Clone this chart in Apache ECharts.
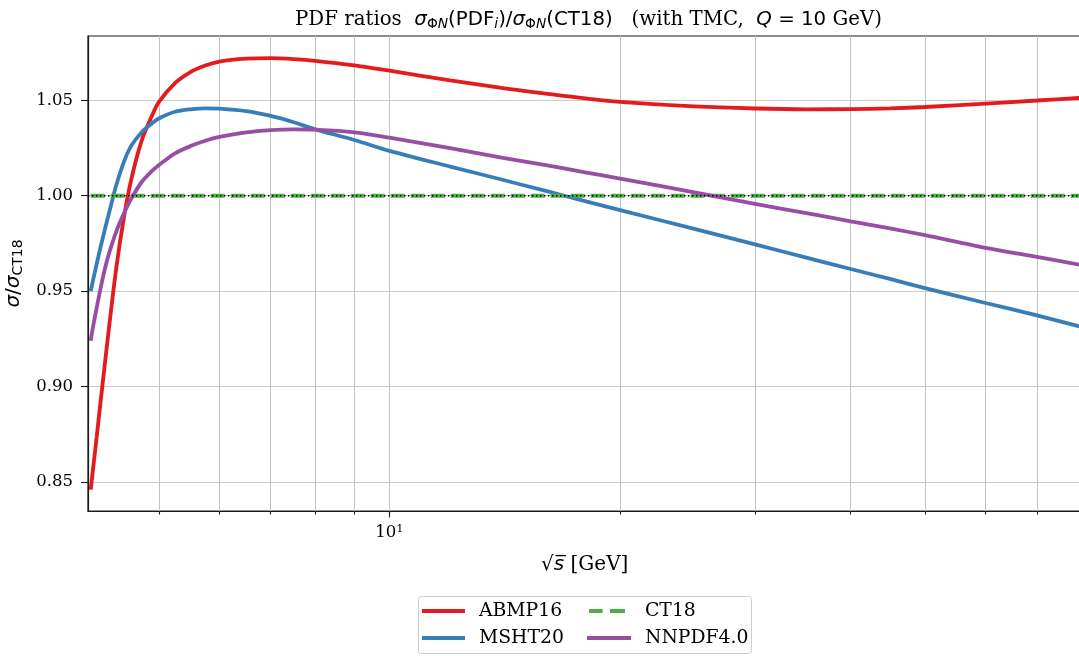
<!DOCTYPE html>
<html>
<head>
<meta charset="utf-8">
<script src="https://cdn.jsdelivr.net/npm/echarts@6/dist/echarts.min.js"></script>
<style>
  html, body { margin: 0; padding: 0; background: #ffffff; }
  #chart { width: 1079px; height: 656px; }
</style>
</head>
<body>
<div id="chart"></div>
<script>
// sqrt(s) grid in GeV
const sqrtS = [4.075, 4.1, 4.15, 4.2, 4.25, 4.3, 4.4, 4.5, 4.6, 4.75, 4.9, 5.0, 5.25, 5.5, 5.75, 6.0,
  6.5, 7.0, 7.5, 8, 9, 10, 12, 14, 16, 18, 20, 25, 30, 35, 40, 45, 50, 60, 70, 80];

// cross-section ratios to CT18
const abmp16 = [0.846, 0.8555, 0.874, 0.893, 0.911, 0.929, 0.962, 0.988, 1.008, 1.029, 1.042, 1.049,
  1.0590, 1.0648, 1.0682, 1.0703, 1.0718, 1.0721, 1.0716, 1.0707, 1.0683, 1.0655, 1.0605, 1.0565,
  1.0535, 1.0510, 1.0492, 1.0468, 1.0457, 1.0453, 1.0454, 1.0458, 1.0465, 1.0483, 1.0499, 1.0513];
const msht20 = [0.950, 0.955, 0.9645, 0.9735, 0.982, 0.990, 1.0055, 1.0175, 1.0260, 1.0333, 1.0380, 1.0405,
  1.0440, 1.0453, 1.0458, 1.0456, 1.0443, 1.0418, 1.0385, 1.0348, 1.0292, 1.0235, 1.0153, 1.0085,
  1.0025, 0.9972, 0.9925, 0.9826, 0.9745, 0.9676, 0.9616, 0.9564, 0.9516, 0.9438, 0.9373, 0.9313];
const nnpdf40 = [0.924, 0.9305, 0.9415, 0.952, 0.9612, 0.9690, 0.9812, 0.9905, 0.9982, 1.0072, 1.0130, 1.0160,
  1.0222, 1.0260, 1.0288, 1.0308, 1.0332, 1.0344, 1.0348, 1.0346, 1.0332, 1.0304, 1.0250, 1.0200,
  1.0160, 1.0123, 1.0090, 1.0018, 0.9957, 0.9909, 0.9866, 0.9829, 0.9793, 0.9727, 0.9679, 0.9637];
const ct18 = [1.0, 1.0];
const ct18S = [4.075, 80];

// axis ranges and ticks
const xRange = [4.042, 80];
const yRange = [0.8348, 1.0837];
const yTicks = [0.85, 0.90, 0.95, 1.00, 1.05];
const xGridTicks = [5, 6, 7, 8, 9, 10, 20, 30, 40, 50, 60, 70];
const xMajorTicks = [10];

const SERIF = 'DejaVu Serif';
const SANS = 'DejaVu Sans';

const pairs = (xs, ys) => xs.map((x, i) => [x, ys[i]]);

const chart = echarts.init(document.getElementById('chart'), null, { renderer: 'canvas' });

const lineSeries = (name, data, color, extra) => Object.assign({
  name: name,
  type: 'line',
  data: data,
  symbol: 'none',
  smooth: 0.3,
  lineStyle: { color: color, width: 3.8 },
  itemStyle: { color: color },
  emphasis: { disabled: true },
  animation: false
}, extra || {});

const legendText = (pad) => ({
  fontFamily: SERIF, fontSize: 18.8, color: '#000', lineHeight: 20, padding: [0, 0, 0, pad]
});

const option = {
  backgroundColor: '#ffffff',
  animation: false,
  title: {
    left: 583.5,
    textAlign: 'center',
    top: 2,
    text: 'PDF ratios  {mi|σ}{sub|Φ}{subi|N}{m|(PDF}{subi|i}{m|)/}{mi|σ}{sub|Φ}{subi|N}{m|(CT18)}   (with TMC,  {mi|Q}{m| = 10} GeV)',
    textStyle: {
      fontFamily: SERIF, fontSize: 19.8, fontWeight: 'normal', color: '#000',
      rich: {
        mi: { fontFamily: SANS, fontStyle: 'italic', fontSize: 19.8, lineHeight: 26 },
        m: { fontFamily: SANS, fontSize: 19.8, lineHeight: 26 },
        sub: { fontFamily: SANS, fontSize: 13.8, lineHeight: 18, padding: [9, 0, 0, 0] },
        subi: { fontFamily: SANS, fontStyle: 'italic', fontSize: 13.8, lineHeight: 18, padding: [9, 0, 0, 0] }
      }
    }
  },
  grid: {
    left: 88, right: -2.4, top: 36, bottom: 145,
    outerBoundsMode: 'none',
    containLabel: false,
    show: true, borderColor: '#1a1a1a', borderWidth: 1.2, backgroundColor: 'transparent'
  },
  legend: [
    {
      data: [{ name: 'ABMP16', icon: 'rect' }, { name: 'MSHT20', icon: 'rect' }],
      orient: 'vertical', left: 422, top: 601,
      itemWidth: 43, itemHeight: 3.8, itemGap: 7, padding: 0,
      symbolKeepAspect: false,
      selectedMode: false,
      textStyle: legendText(9)
    },
    {
      data: [{ name: 'CT18', icon: 'path://M0,0H13.7V3.8H0Z M21,0H36V3.8H21Z' }],
      orient: 'vertical', left: 589, top: 601,
      itemWidth: 36, itemHeight: 3.8, itemGap: 7, padding: 0,
      symbolKeepAspect: false,
      selectedMode: false,
      textStyle: legendText(15)
    },
    {
      data: [{ name: 'NNPDF4.0', icon: 'rect' }],
      orient: 'vertical', left: 587, top: 628,
      itemWidth: 44, itemHeight: 3.8, itemGap: 7, padding: 0,
      symbolKeepAspect: false,
      selectedMode: false,
      textStyle: legendText(9)
    }
  ],
  graphic: [{
    type: 'rect',
    shape: { x: 418.5, y: 596.5, width: 333, height: 57, r: 3 },
    style: { fill: 'rgba(255,255,255,0.8)', stroke: '#cccccc', lineWidth: 1 },
    z: -1
  }],
  xAxis: [
    {
      type: 'log', logBase: 10, min: xRange[0], max: xRange[1],
      position: 'bottom',
      name: '{m|√}{mi|s̅}{t| [GeV]}',
      nameLocation: 'middle', nameGap: 44,
      nameTextStyle: {
        fontFamily: SERIF, fontSize: 20, color: '#000',
        rich: {
          m: { fontFamily: SANS, fontSize: 20 },
          mi: { fontFamily: SANS, fontStyle: 'italic', fontSize: 20 },
          t: { fontFamily: SERIF, fontSize: 20 }
        }
      },
      axisLine: { show: true, lineStyle: { color: '#1a1a1a', width: 1.2 } },
      axisTick: { show: true, customValues: xGridTicks, length: 3.5, lineStyle: { color: '#1a1a1a', width: 1.1 } },
      axisLabel: {
        show: true, customValues: xMajorTicks, margin: 12,
        fontFamily: SERIF, fontSize: 16.5, color: '#000',
        formatter: (v) => '{b|10}{sup|' + Math.round(Math.log10(v)) + '}',
        rich: {
          b: { fontFamily: SERIF, fontSize: 16.5, lineHeight: 20 },
          sup: { fontFamily: SERIF, fontSize: 11.5, lineHeight: 14, padding: [0, 0, 8, 0] }
        }
      },
      splitLine: { show: true, lineStyle: { color: '#c4c4c4', width: 1 } },
      minorTick: { show: false },
      minorSplitLine: { show: false }
    },
    {
      type: 'log', logBase: 10, min: xRange[0], max: xRange[1],
      position: 'bottom', offset: 0,
      axisLine: { show: false },
      axisTick: { show: true, customValues: xMajorTicks, length: 6.5, lineStyle: { color: '#1a1a1a', width: 1.1 } },
      axisLabel: { show: false },
      splitLine: { show: false }
    }
  ],
  yAxis: {
    type: 'value', min: yRange[0], max: yRange[1],
    name: '{mi|σ}{m|/}{mi|σ}{sub|CT18}',
    nameLocation: 'middle', nameRotate: 90, nameGap: 60,
    nameTextStyle: {
      fontFamily: SANS, fontSize: 20, color: '#000',
      rich: {
        mi: { fontFamily: SANS, fontStyle: 'italic', fontSize: 20, lineHeight: 26 },
        m: { fontFamily: SANS, fontSize: 20, lineHeight: 26 },
        sub: { fontFamily: SANS, fontSize: 14, lineHeight: 18, padding: [9, 0, 0, 0] }
      }
    },
    axisLine: { show: true, lineStyle: { color: '#1a1a1a', width: 1.2 } },
    axisTick: { show: true, customValues: yTicks, length: 7, lineStyle: { color: '#1a1a1a', width: 1.1 } },
    axisLabel: {
      show: true, customValues: yTicks, margin: 15,
      fontFamily: SERIF, fontSize: 16.5, color: '#000',
      formatter: (v) => v.toFixed(2)
    },
    splitLine: { show: true, lineStyle: { color: '#cccccc', width: 1 } }
  },
  series: [
    lineSeries('ABMP16', pairs(sqrtS, abmp16), '#e41a1c'),
    lineSeries('MSHT20', pairs(sqrtS, msht20), '#377eb8'),
    lineSeries('CT18', pairs(ct18S, ct18), '#4daf4a', {
      smooth: false,
      lineStyle: { color: '#4daf4a', width: 3.8, type: [14, 6] }
    }),
    lineSeries('NNPDF4.0', pairs(sqrtS, nnpdf40), '#984ea3'),
    lineSeries('unity', pairs(xRange, ct18), '#000000', {
      smooth: false,
      lineStyle: { color: '#000000', width: 1.3, type: [1.4, 2.6] }
    })
  ]
};

chart.setOption(option);
</script>
</body>
</html>
